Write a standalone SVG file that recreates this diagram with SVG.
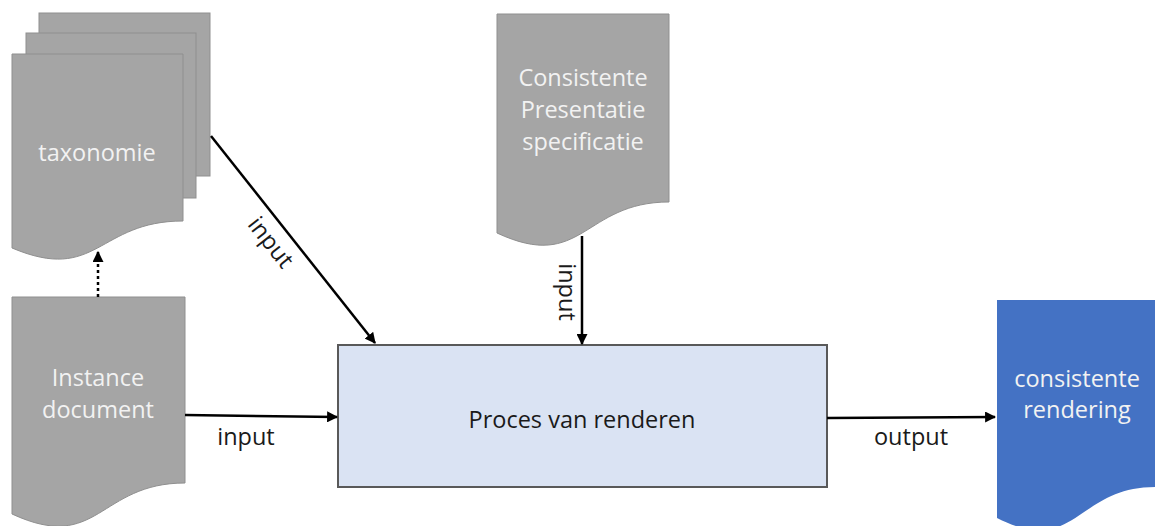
<svg xmlns="http://www.w3.org/2000/svg" width="1155" height="526" viewBox="0 0 1155 526">
<defs>
<style>
.doc{fill:#A5A5A5;stroke:#8F8F8F;stroke-width:1}
.dt{font-family:"Open Sans","Noto Sans",sans-serif;font-size:23.5px;fill:#F2F2F2;text-anchor:middle}
.lbl{font-family:"Open Sans","Noto Sans",sans-serif;font-size:23.5px;fill:#1a1a1a;text-anchor:middle}
.con{stroke:#000;stroke-width:2.5;fill:none}
</style>
<marker id="ah" viewBox="0 0 10 10" refX="9" refY="5" markerWidth="4.4" markerHeight="4.4" orient="auto" markerUnits="strokeWidth">
<path d="M0,0 L10,5 L0,10 z" fill="#000"/>
</marker>
</defs>
<rect width="1155" height="526" fill="#fff"/>

<g id="taxonomie">
<rect class="doc" x="39" y="13" width="171" height="163"/>
<rect class="doc" x="26" y="33" width="170" height="165"/>
<path class="doc" d="M12,54 H183 V221 C97.5,221 97.5,284 12,248 Z"/>
<text class="dt" x="97" y="161">taxonomie</text>
</g>

<g id="instance">
<path class="doc" d="M12,297 H185 V483 C98.5,483 98.5,554 12,514 Z"/>
<text class="dt" x="98" y="386">Instance</text>
<text class="dt" x="98" y="418">document</text>
</g>

<g id="presentatie">
<path class="doc" d="M497,14 H669 V202 C583,202 583,273 497,233 Z"/>
<text class="dt" x="583" y="86">Consistente</text>
<text class="dt" x="583" y="118">Presentatie</text>
<text class="dt" x="583" y="150">specificatie</text>
</g>

<g id="proces">
<rect x="338" y="345" width="489" height="142" fill="#DAE3F3" stroke="#595959" stroke-width="2"/>
<text class="lbl" x="582" y="428">Proces van renderen</text>
</g>

<g id="rendering">
<path d="M997,300 H1155 V487 C1076,487 1076,558 997,518 Z" fill="#4472C4"/>
<text class="dt" x="1077" y="387">consistente</text>
<text class="dt" x="1077" y="418">rendering</text>
</g>

<g id="connectors">
<line class="con" x1="98" y1="297" x2="98" y2="252" stroke-dasharray="3 3" marker-end="url(#ah)"/>
<line class="con" x1="211" y1="136" x2="375" y2="343" marker-end="url(#ah)"/>
<line class="con" x1="185" y1="415" x2="337" y2="417" marker-end="url(#ah)"/>
<line class="con" x1="582" y1="236" x2="582" y2="344" marker-end="url(#ah)"/>
<line class="con" x1="827" y1="418" x2="995" y2="417" marker-end="url(#ah)"/>
<text class="lbl" transform="translate(270,243) rotate(51.6)" y="7">input</text>
<text class="lbl" transform="translate(566,292) rotate(90)" y="7">input</text>
<text class="lbl" x="246" y="445">input</text>
<text class="lbl" x="911" y="445">output</text>
</g>
</svg>
